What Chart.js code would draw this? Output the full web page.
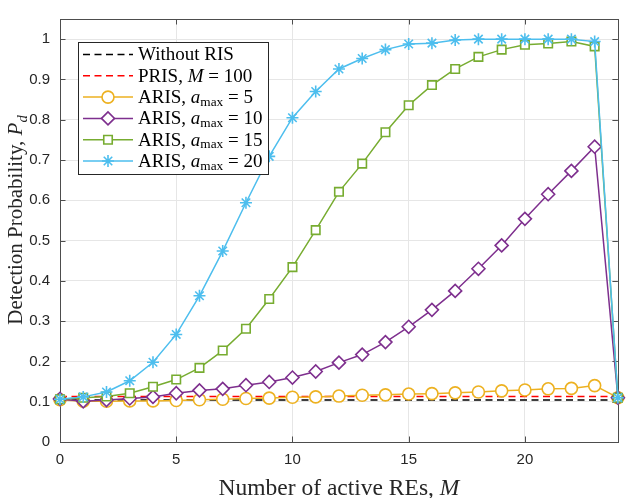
<!DOCTYPE html>
<html>
<head>
<meta charset="utf-8">
<script src="https://cdn.jsdelivr.net/npm/chart.js@4/dist/chart.umd.min.js"></script>
<style>
    html, body { margin: 0; padding: 0; background: #fff; }
    #wrap { width: 626px; height: 498px; }
</style>
</head>
<body>
<div id="wrap"><canvas id="chart" width="626" height="498"></canvas></div>
<script>
// Number of active REs
const mValues = [0, 1, 2, 3, 4, 5, 6, 7, 8, 9, 10, 11, 12, 13, 14, 15, 16, 17, 18, 19, 20, 21, 22, 23, 24];
// flat reference lines (start and end of the M range)
const baselineM = [0, 24];
const withoutRis = [0.104, 0.104];
const pris100 = [0.113, 0.113];
// ARIS curves, one value per M
const aris5 = [0.105, 0.101, 0.101, 0.102, 0.102, 0.103, 0.105, 0.106, 0.108, 0.109, 0.111, 0.112, 0.114,
    0.116, 0.117, 0.119, 0.120, 0.122, 0.124, 0.127, 0.129, 0.132, 0.133, 0.140, 0.110];
const aris10 = [0.107, 0.101, 0.104, 0.108, 0.112, 0.121, 0.128, 0.132, 0.141, 0.149, 0.160, 0.175, 0.197,
    0.217, 0.248, 0.286, 0.328, 0.375, 0.430, 0.488, 0.554, 0.615, 0.673, 0.733, 0.110];
const aris15 = [0.106, 0.110, 0.113, 0.121, 0.137, 0.155, 0.184, 0.227, 0.281, 0.355, 0.434, 0.526, 0.621,
    0.691, 0.769, 0.836, 0.886, 0.926, 0.956, 0.974, 0.986, 0.989, 0.994, 0.982, 0.110];
const aris20 = [0.106, 0.112, 0.124, 0.152, 0.198, 0.267, 0.363, 0.474, 0.594, 0.709, 0.805, 0.870, 0.926,
    0.952, 0.974, 0.988, 0.990, 0.998, 1.000, 1.000, 1.000, 1.000, 1.000, 0.994, 0.110];

const xTicks = [0, 5, 10, 15, 20];
const yTicks = [0, 0.1, 0.2, 0.3, 0.4, 0.5, 0.6, 0.7, 0.8, 0.9, 1];

// rich text pieces: i = italic, s = subscript
const legendParts = [
    [{ t: "Without RIS" }],
    [{ t: "PRIS, " }, { t: "M", i: 1 }, { t: " = 100" }],
    [{ t: "ARIS, " }, { t: "a", i: 1 }, { t: "max", s: 1 }, { t: " = 5" }],
    [{ t: "ARIS, " }, { t: "a", i: 1 }, { t: "max", s: 1 }, { t: " = 10" }],
    [{ t: "ARIS, " }, { t: "a", i: 1 }, { t: "max", s: 1 }, { t: " = 15" }],
    [{ t: "ARIS, " }, { t: "a", i: 1 }, { t: "max", s: 1 }, { t: " = 20" }]
];
const xTitleParts = [{ t: "Number of active REs, " }, { t: "M", i: 1 }];
const yTitleParts = [{ t: "Detection Probability, " }, { t: "P", i: 1 }, { t: "d", i: 1, s: 1 }];

const SERIF = '"Liberation Serif", "Times New Roman", serif';
const AXIS_COLOR = "#4d4d4d";

function toPoints(xs, ys) {
    return xs.map((x, i) => ({ x: x, y: ys[i] }));
}

function richFont(part, size) {
    const s = part.s ? size * 0.7 : size;
    return (part.i ? "italic " : "") + s + "px " + SERIF;
}

function richWidth(ctx, parts, size) {
    let w = 0;
    parts.forEach(p => {
        ctx.font = richFont(p, size);
        w += ctx.measureText(p.t).width;
    });
    return w;
}

function drawRich(ctx, parts, x, y, size) {
    parts.forEach(p => {
        ctx.font = richFont(p, size);
        ctx.fillText(p.t, x, y + (p.s ? size * 0.22 : 0));
        x += ctx.measureText(p.t).width;
    });
}

function seriesSet(label, data, color, style, radius, order) {
    return {
        label: label,
        data: data,
        borderColor: color,
        borderWidth: 1.5,
        pointStyle: style,
        pointRadius: radius,
        pointBorderWidth: 1.6,
        pointBorderColor: color,
        pointBackgroundColor: "#fff",
        pointHoverRadius: radius,
        tension: 0,
        clip: false,
        order: order
    };
}

function dashedSet(label, data, color, order) {
    return {
        label: label,
        data: data,
        borderColor: color,
        borderWidth: 1.5,
        borderDash: [7, 4.5],
        pointRadius: 0,
        pointStyle: false,
        tension: 0,
        order: order
    };
}

// box with inward ticks, drawn under the data like MATLAB
const framePlugin = {
    id: "frame",
    beforeDatasetsDraw(chart) {
        const { ctx, chartArea: a, scales } = chart;
        const len = 5.5;
        ctx.save();
        ctx.strokeStyle = AXIS_COLOR;
        ctx.lineWidth = 1;
        ctx.beginPath();
        xTicks.forEach(v => {
            const px = Math.round(scales.x.getPixelForValue(v)) + 0.5;
            ctx.moveTo(px, a.bottom); ctx.lineTo(px, a.bottom - len);
            ctx.moveTo(px, a.top); ctx.lineTo(px, a.top + len);
        });
        yTicks.forEach(v => {
            const py = Math.round(scales.y.getPixelForValue(v)) + 0.5;
            ctx.moveTo(a.left, py); ctx.lineTo(a.left + len, py);
            ctx.moveTo(a.right, py); ctx.lineTo(a.right - len, py);
        });
        ctx.stroke();
        ctx.strokeRect(Math.round(a.left) + 0.5, Math.round(a.top) + 0.5,
            Math.round(a.right - a.left), Math.round(a.bottom - a.top));
        ctx.restore();
    },
    afterDraw(chart) {
        const { ctx, chartArea: a } = chart;
        ctx.save();
        ctx.fillStyle = "#262626";
        ctx.textBaseline = "alphabetic";
        const xw = richWidth(ctx, xTitleParts, 23.5);
        drawRich(ctx, xTitleParts, (a.left + a.right) / 2 - xw / 2, 495, 23.5);
        const yw = richWidth(ctx, yTitleParts, 21);
        ctx.translate(22, 220);
        ctx.rotate(-Math.PI / 2);
        drawRich(ctx, yTitleParts, -yw / 2, 0, 21);
        ctx.restore();
    }
};

// legend box inside the axes, upper left
const legendPlugin = {
    id: "insideLegend",
    afterDatasetsDraw(chart) {
        const ctx = chart.ctx;
        const box = { x: 78.5, y: 42.5, w: 190, h: 132 };
        const rowH = 21.3;
        const size = 19;
        ctx.save();
        ctx.fillStyle = "#fff";
        ctx.fillRect(box.x, box.y, box.w, box.h);
        ctx.strokeStyle = "#262626";
        ctx.lineWidth = 1;
        ctx.strokeRect(box.x, box.y, box.w, box.h);
        chart.data.datasets.forEach((ds, i) => {
            const cy = 54.5 + i * rowH;
            ctx.save();
            ctx.strokeStyle = ds.borderColor;
            ctx.lineWidth = ds.borderWidth;
            ctx.setLineDash(ds.borderDash || []);
            ctx.beginPath();
            ctx.moveTo(83, cy);
            ctx.lineTo(133, cy);
            ctx.stroke();
            ctx.setLineDash([]);
            if (ds.pointStyle) {
                ctx.fillStyle = "#fff";
                ctx.strokeStyle = ds.pointBorderColor;
                ctx.lineWidth = ds.pointBorderWidth;
                Chart.helpers.drawPoint(ctx, {
                    pointStyle: ds.pointStyle,
                    rotation: 0,
                    radius: ds.pointRadius,
                    borderWidth: ds.pointBorderWidth
                }, 108, cy);
            }
            ctx.restore();
            ctx.fillStyle = "#000";
            ctx.textBaseline = "middle";
            drawRich(ctx, legendParts[i], 138, cy + 1, size);
        });
        ctx.restore();
    }
};

new Chart(document.getElementById("chart"), {
    type: "line",
    data: {
        datasets: [
            dashedSet("Without RIS", toPoints(baselineM, withoutRis), "#000000", 6),
            dashedSet("PRIS, M = 100", toPoints(baselineM, pris100), "#ff0000", 5),
            seriesSet("ARIS, a_max = 5", toPoints(mValues, aris5), "#EDB120", "circle", 6, 4),
            seriesSet("ARIS, a_max = 10", toPoints(mValues, aris10), "#7E2F8E", "rectRot", 6.5, 3),
            seriesSet("ARIS, a_max = 15", toPoints(mValues, aris15), "#77AC30", "rect", 6, 2),
            seriesSet("ARIS, a_max = 20", toPoints(mValues, aris20), "#4DBEEE", "star", 6, 1)
        ]
    },
    options: {
        responsive: false,
        animation: false,
        devicePixelRatio: 1,
        layout: { padding: { left: 0, top: 2, right: 8, bottom: 0 } },
        plugins: {
            legend: { display: false },
            tooltip: { enabled: false }
        },
        scales: {
            x: {
                type: "linear",
                min: 0,
                max: 24,
                afterFit: (scale) => { scale.height = 56; },
                afterBuildTicks: (scale) => { scale.ticks = xTicks.map(v => ({ value: v })); },
                ticks: {
                    color: "#262626",
                    padding: 9,
                    font: { family: '"Liberation Sans", Arial, sans-serif', size: 15 }
                },
                grid: { color: "#e6e6e6", lineWidth: 1, drawTicks: false },
                border: { display: false }
            },
            y: {
                type: "linear",
                min: 0,
                max: 1.05,
                afterFit: (scale) => { scale.width = 60; },
                afterBuildTicks: (scale) => { scale.ticks = yTicks.map(v => ({ value: v })); },
                ticks: {
                    color: "#262626",
                    padding: 10,
                    font: { family: '"Liberation Sans", Arial, sans-serif', size: 15 },
                    callback: (value) => String(+value.toFixed(1))
                },
                grid: { color: "#e6e6e6", lineWidth: 1, drawTicks: false },
                border: { display: false }
            }
        }
    },
    plugins: [framePlugin, legendPlugin]
});
</script>
</body>
</html>
